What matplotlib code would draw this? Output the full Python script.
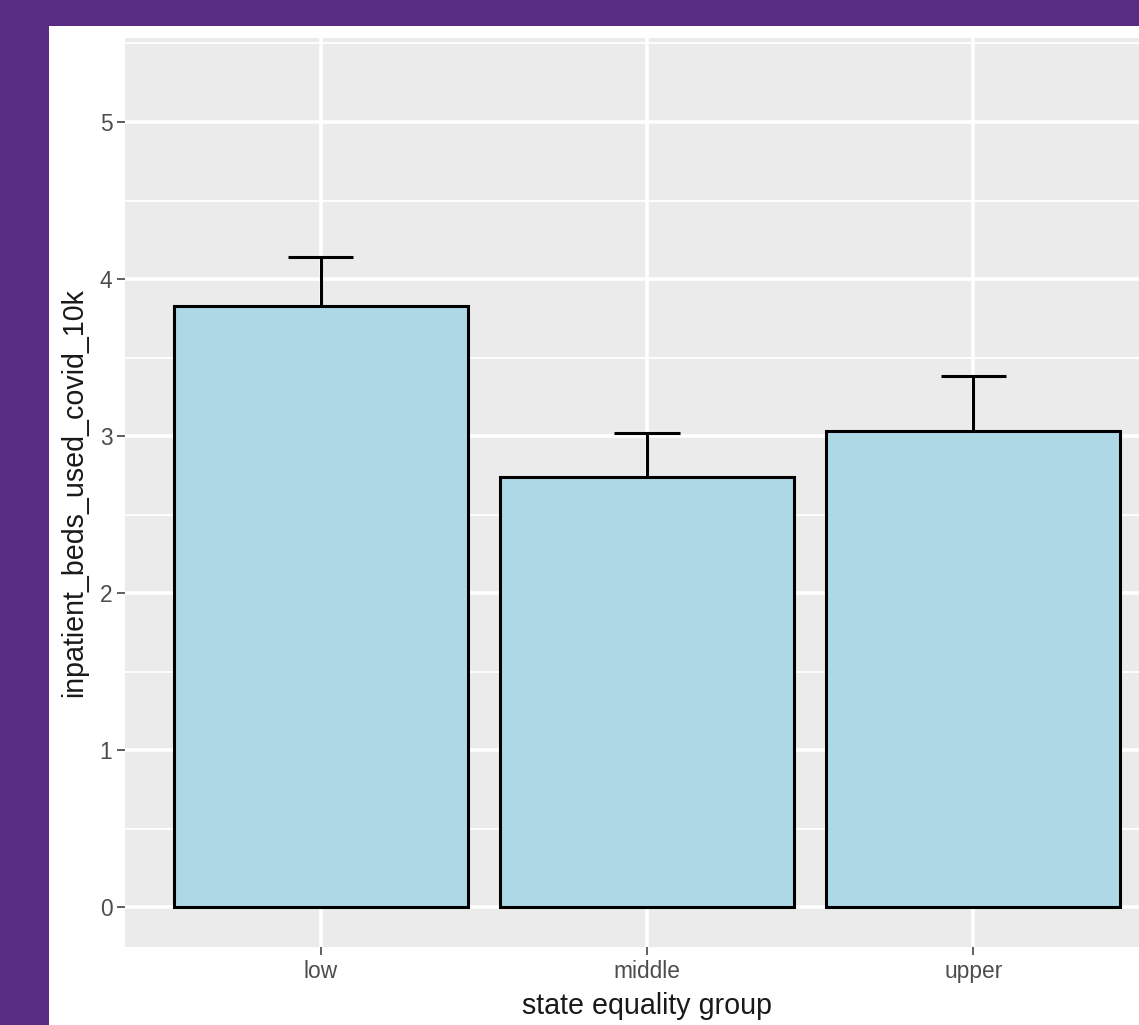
import matplotlib
matplotlib.use("Agg")
import matplotlib.pyplot as plt
from matplotlib.patches import Rectangle
import numpy as np

# Mean inpatient beds used for COVID per 10k, by state equality group
groups = ["low", "middle", "upper"]
mean_beds = [3.83, 2.74, 3.03]
se_beds = [0.31, 0.28, 0.35]
y_ticks = [0, 1, 2, 3, 4, 5]
x_title = "state equality group"
y_title = "inpatient_beds_used_covid_10k"

W, H, DPI = 1139, 1025, 100
PURPLE = "#582C82"
PANEL = "#EBEBEB"
TICK_TXT = "#4D4D4D"
TICK_LINE = "#333333"

plt.rcParams["font.family"] = ["Liberation Sans", "DejaVu Sans"]

fig = plt.figure(figsize=(W / DPI, H / DPI), dpi=DPI, facecolor=PURPLE)

# white card behind the plot
fig.patches.append(Rectangle((49 / W, 0), 1 - 49 / W, 1 - 26 / H,
                             transform=fig.transFigure, facecolor="white",
                             edgecolor="none", zorder=-10))

# panel (extends slightly past the right edge of the canvas)
left, right = 125 / W, 1169 / W
bottom, top = 1 - 947 / H, 1 - 38 / H
ax = fig.add_axes([left, bottom, right - left, top - bottom])
ax.set_zorder(5)
ax.set_facecolor(PANEL)
for s in ax.spines.values():
    s.set_visible(False)

x = np.arange(1, len(groups) + 1)
ax.set_xlim(0.4, 3.6)
ax.set_ylim(-0.252, 5.535)

# grid: major white, minor thinner white
ax.set_axisbelow(True)
ax.set_yticks(y_ticks)
ax.set_yticks([v + 0.5 for v in y_ticks], minor=True)
ax.set_xticks(x)
ax.set_xticklabels(groups)
ax.grid(which="major", color="white", linewidth=2.6)
ax.grid(which="minor", axis="y", color="white", linewidth=1.3)

ax.bar(x, mean_beds, width=0.9, color="#ADD8E6", edgecolor="black",
       linewidth=2.2, zorder=2)

# upper error bars with caps 0.2 wide
tops = [m + s for m, s in zip(mean_beds, se_beds)]
ax.vlines(x, mean_beds, tops, color="black", linewidth=2.2, zorder=3)
ax.hlines(tops, x - 0.1, x + 0.1, color="black", linewidth=2.2, zorder=3)

ax.tick_params(axis="both", which="major", direction="out", length=5.5,
               width=1.1, color=TICK_LINE, labelcolor=TICK_TXT,
               labelsize=16.4)
ax.tick_params(axis="y", which="minor", length=0)
ax.tick_params(axis="y", pad=3.6)
ax.tick_params(axis="x", pad=4.2)

ax.set_xlabel(x_title, fontsize=20.6, color="#1A1A1A")
ax.set_ylabel(y_title, fontsize=20.6, color="#1A1A1A")
ax.xaxis.set_label_coords(0.5, -0.0495)
ax.xaxis.label.set_va("top")
ax.yaxis.set_label_coords(-0.0354, 0.5)

fig.savefig("out.png", dpi=DPI, facecolor=PURPLE)
